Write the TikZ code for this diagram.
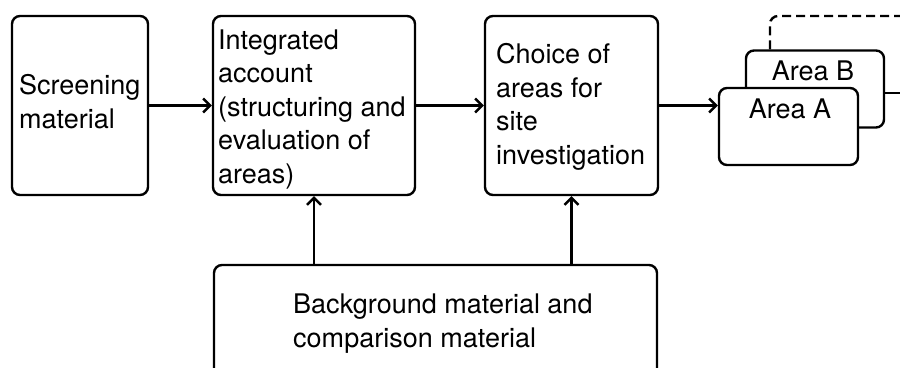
\documentclass[tikz,border=0pt]{standalone}
\usepackage{fontspec}
\setmainfont{TeX Gyre Heros}
\usetikzlibrary{arrows.meta}
\tikzset{
  box/.style={draw, line width=2.4pt, rounded corners=8pt, fill=white, inner sep=0pt},
  label/.style={inner sep=0pt, align=left, anchor=base west,
    font=\fontsize{27pt}{33.4pt}\selectfont},
  arealabel/.style={inner sep=0pt, anchor=base, font=\fontsize{27pt}{33pt}\selectfont},
  flow/.style={line width=2.4pt, -{Straight Barb[length=7pt,width=14pt]}},
  link/.style={line width=2.4pt},
}
\begin{document}
\begin{tikzpicture}[x=1pt,y=-1pt]
  \useasboundingbox (0,0) rectangle (900,367);
  \clip (0,0) rectangle (900,367);

  % main process boxes
  \node[box, minimum width=136pt, minimum height=179pt] (scr) at (80,105.5) {};
  \node[box, minimum width=202pt, minimum height=179pt] (int) at (314,105.5) {};
  \node[box, minimum width=173pt, minimum height=179pt] (cho) at (571.5,105.5) {};
  \node[box, minimum width=443pt, minimum height=160pt] (bg) at (435.5,345) {};

  % stacked area boxes
  \coordinate (dashend) at (905,16);
  \coordinate (bend) at (905,93);
  \node[box, minimum width=138pt, minimum height=77pt] (areaB) at (815,89) {};
  \draw[link, dash pattern=on 9pt off 5pt, rounded corners=8pt]
    (areaB.north -| 770,0) |- (dashend);
  \draw[link] (areaB.east |- bend) -- (bend);
  \node[box, minimum width=139pt, minimum height=77pt] (areaA) at (788.5,126.5) {};

  % texts (anchored at the baseline of their last line)
  \node[label] (tscr) at (19,128) {Screening\\material};
  \node[label] (tint) at (218,183) {Integrated\\account\\(structuring and\\evaluation of\\areas)};
  \node[label] (tcho) at (496,164) {Choice of\\areas for\\site\\investigation};
  \node[label] (tbg) at (293,347) {Background material and\\comparison material};
  \node[arealabel] (tB) at (813,80) {Area B};
  \node[arealabel] (tA) at (790,118) {Area A};

  % connectors
  \draw[flow] (scr.east) -- (int.west);
  \draw[flow] (int.east) -- (cho.west);
  \draw[flow] (cho.east) -- (areaA.west |- cho.east);
  \draw[flow] (bg.north -| int.south) -- (int.south);
  \draw[flow] (bg.north -| cho.south) -- (cho.south);
\end{tikzpicture}
\end{document}
